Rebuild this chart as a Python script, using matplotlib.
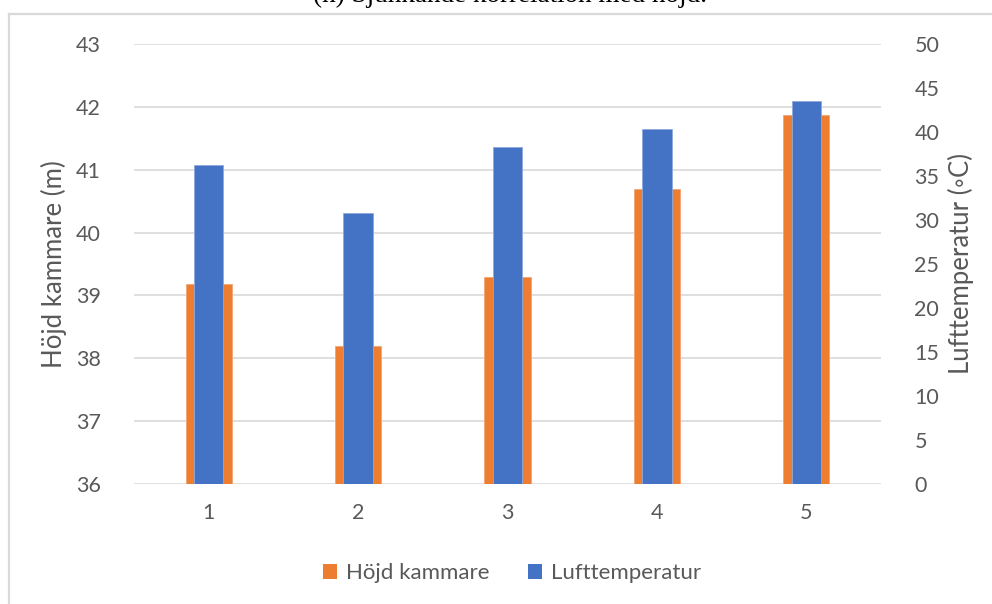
import matplotlib
matplotlib.use("Agg")
import matplotlib.pyplot as plt
from matplotlib.patches import Patch
from matplotlib.lines import Line2D

plt.rcParams['font.family'] = ['Lato', 'DejaVu Sans']

categories = ["1", "2", "3", "4", "5"]
hojd_kammare = [39.18, 38.20, 39.29, 40.69, 41.87]
lufttemperatur = [36.2, 30.8, 38.3, 40.3, 43.5]
left_ticks = [36, 37, 38, 39, 40, 41, 42, 43]
right_ticks = [0, 5, 10, 15, 20, 25, 30, 35, 40, 45, 50]

ORANGE = "#ED7D31"
BLUE = "#4472C4"
TEXT = "#595959"
GRID = "#D9D9D9"

W, H = 992, 604
fig = plt.figure(figsize=(W / 100, H / 100), dpi=100)
fig.patch.set_facecolor("white")

# outer chart frame (extends past the right and bottom edges)
frame_x = 8.5 / W
frame_y = 1 - 13.5 / H
fig.add_artist(Line2D([frame_x, frame_x], [frame_y, -0.1], transform=fig.transFigure,
                      color=GRID, lw=1.6))
fig.add_artist(Line2D([frame_x, 1.1], [frame_y, frame_y], transform=fig.transFigure,
                      color=GRID, lw=1.6))

# caption of the figure, sitting above the frame
fig.text(510 / W, 1 - 1.5 / H, "(h) Sjunkande korrelation med höjd.",
         family=["Liberation Serif", "DejaVu Serif"], fontsize=19.5,
         ha="center", va="baseline", color="black")

ax = fig.add_axes([134 / W, 1 - 484 / H, (881 - 134) / W, (484 - 44) / H])
ax2 = ax.twinx()

x = list(range(1, len(categories) + 1))
ax.bar(x, [v - left_ticks[0] for v in hojd_kammare], bottom=left_ticks[0], width=0.31,
       color=ORANGE, edgecolor="#F4A572", linewidth=0.6, zorder=3)
ax2.bar(x, lufttemperatur, width=0.196, color=BLUE, edgecolor="#8FAADC",
        linewidth=0.6, zorder=3)

ax.set_xlim(0.5, len(categories) + 0.5)
ax.set_ylim(left_ticks[0], left_ticks[-1])
ax2.set_ylim(right_ticks[0], right_ticks[-1])
ax.set_yticks(left_ticks)
ax2.set_yticks(right_ticks)
ax.set_xticks(x)
ax.set_xticklabels(categories)

ax.grid(axis="y", color=GRID, linewidth=1.2, zorder=0)
ax.set_axisbelow(True)
for a in (ax, ax2):
    for s in a.spines.values():
        s.set_visible(False)
    a.tick_params(length=0, labelsize=15.5, colors=TEXT)
ax.tick_params(axis="y", pad=24)
ax.tick_params(axis="x", pad=14)
ax2.tick_params(axis="y", pad=24)

ax.set_ylabel("Höjd kammare (m)", fontsize=18.5, color=TEXT, labelpad=6)
ax2.set_ylabel("Lufttemperatur (◦C)", fontsize=18.5, color=TEXT, labelpad=6,
               family=["Lato", "DejaVu Sans"])

handles = [Patch(facecolor=ORANGE, edgecolor="none"), Patch(facecolor=BLUE, edgecolor="none")]
fig.legend(handles, ["Höjd kammare", "Lufttemperatur"], loc="center",
           bbox_to_anchor=(512 / W, 1 - 573 / H), ncol=2, frameon=False,
           fontsize=16, labelcolor=TEXT, handlelength=0.65, handleheight=0.65,
           handletextpad=0.4, columnspacing=1.7)

fig.savefig("out.png", dpi=100, facecolor="white")
